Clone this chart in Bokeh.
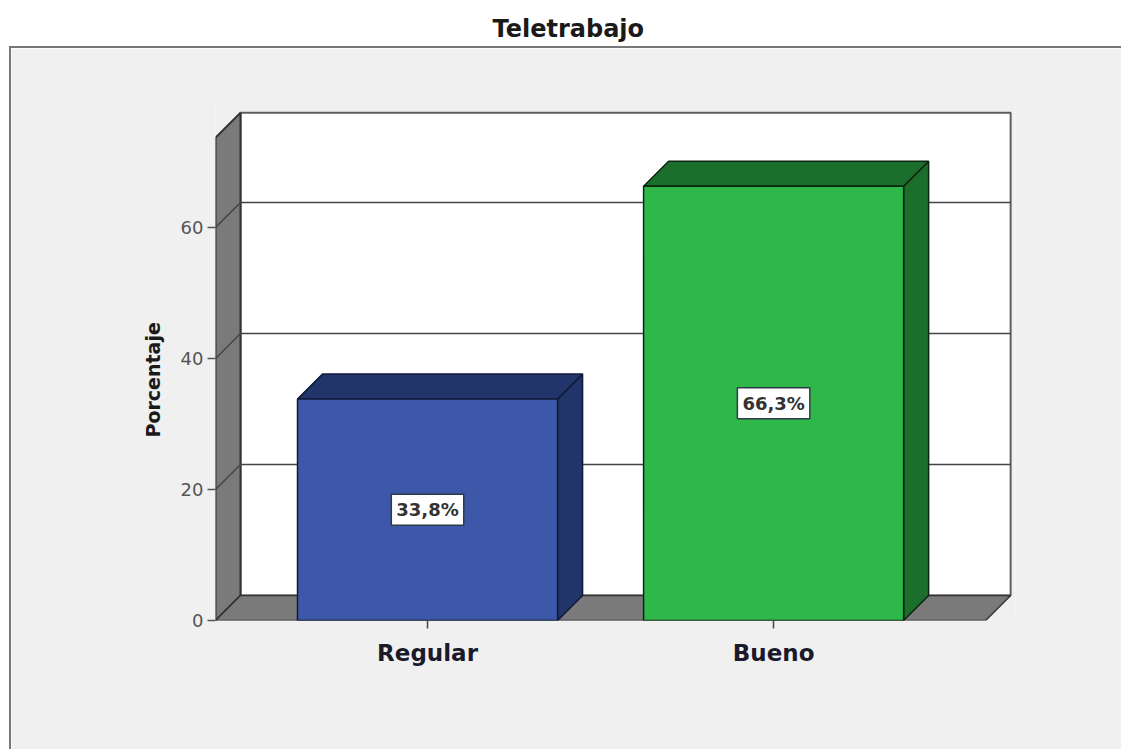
from bokeh.plotting import figure
from bokeh.layouts import column, row
from bokeh.models import ColumnDataSource, FixedTicker, Range1d, Spacer, Title
from bokeh.core.properties import value
from bokeh.embed import file_html
from bokeh.resources import INLINE

# ---- data
categories = ["Regular", "Bueno"]
values = [33.8, 66.3]
value_labels = ["33,8%", "66,3%"]
y_ticks = [0, 20, 40, 60]
front_colors = ["#3E58A9", "#2EB84A"]
side_colors = ["#22356B", "#1C6E2D"]
title_text = "Teletrabajo"
y_title = "Porcentaje"

# ---- scale layout
PX_X = 346.0      # pixels per category step
PX_Y = 6.55       # pixels per percent
DX = 25 / PX_X    # 3-D depth in data units
DY = 25 / PX_Y
BAR_W = 260 / PX_X
X0, X1 = -0.6127, 1.6127   # front edges of the floor
Y_TOP = 73.7               # front top of the left wall
PANEL = "#F0F0F0"
RULE = "#777777"

# title strip above the grey panel
head = figure(width=1121, height=46, output_backend="svg", toolbar_location=None,
              x_axis_type=None, y_axis_type=None, min_border=0, min_border_top=44,
              outline_line_color=None, border_fill_color="white", background_fill_color="white")
head.grid.visible = False
head.title = Title(text=title_text, align="left", offset=492, standoff=4,
                   text_font="DejaVu Sans", text_font_size="24px", text_font_style="bold", text_color="#1a1a1a")

p = figure(width=1110, height=701, output_backend="svg", toolbar_location=None,
           frame_width=800, frame_height=520,
           min_border_left=204, min_border_right=106, min_border_top=52, min_border_bottom=129,
           x_range=Range1d(-0.6127, 1.699), y_range=Range1d(0, 520 / PX_Y),
           outline_line_color=None, background_fill_color=PANEL, border_fill_color=PANEL)
p.grid.visible = False

# back wall
p.quad(left=[X0 + DX], right=[X1 + DX], bottom=[DY], top=[Y_TOP + DY],
       fill_color="white", line_color="#5e5e5e", line_width=2)
# left wall and floor
p.patch([X0, X0 + DX, X0 + DX, X0], [0, DY, Y_TOP + DY, Y_TOP],
        fill_color="#7A7A7A", line_color="#333333", line_width=2)
p.patch([X0, X0 + DX, X1 + DX, X1], [0, DY, DY, 0],
        fill_color="#7A7A7A", line_color="#333333", line_width=1.5)
# gridlines wrap over wall and back
grid_vals = [v for v in y_ticks if v > 0]
p.multi_line([[X0, X0 + DX, X1 + DX] for _ in grid_vals],
             [[v, v + DY, v + DY] for v in grid_vals],
             line_color="#444444", line_width=1.5)

# 3-D bars
for i, (v, fc, sc) in enumerate(zip(values, front_colors, side_colors)):
    l, r = i - BAR_W / 2, i + BAR_W / 2
    edge = "#0d2410" if i else "#101a38"
    p.patch([r, r + DX, r + DX, r], [0, DY, v + DY, v], fill_color=sc, line_color=edge, line_width=1.5)
    p.patch([l, l + DX, r + DX, r], [v, v + DY, v + DY, v], fill_color=sc, line_color=edge, line_width=1.5)
    p.quad(left=[l], right=[r], bottom=[0], top=[v], fill_color=fc, line_color=edge, line_width=1.5)

# value labels
src = ColumnDataSource(dict(x=list(range(len(values))), y=[v / 2 for v in values], t=value_labels))
p.text(x="x", y="y", text="t", source=src, text_align="center", text_baseline="middle",
       text_font=value("DejaVu Sans"), text_font_size="18px", text_font_style="bold", text_color="#333333",
       background_fill_color="white", border_line_color="#2f3b4a", border_line_width=1.5, padding=5)

# axes
ax = p.yaxis[0]
ax.ticker = FixedTicker(ticks=y_ticks)
ax.axis_line_color = None
ax.major_tick_out, ax.major_tick_in, ax.minor_tick_out, ax.minor_tick_in = 8, 0, 0, 0
ax.major_tick_line_color = "#555555"
ax.major_tick_line_width = 1.5
ax.major_label_text_font = "DejaVu Sans"
ax.major_label_text_font_size = "18px"
ax.major_label_text_color = "#555555"
ax.major_label_standoff = 4

bx = p.xaxis[0]
bx.ticker = FixedTicker(ticks=list(range(len(categories))))
bx.major_label_overrides = {i: c for i, c in enumerate(categories)}
bx.axis_line_color = None
bx.major_tick_out, bx.major_tick_in, bx.minor_tick_out, bx.minor_tick_in = 8, 0, 0, 0
bx.major_tick_line_color = "#444444"
bx.major_tick_line_width = 1.5
bx.major_label_text_font = "DejaVu Sans"
bx.major_label_text_font_size = "23px"
bx.major_label_text_font_style = "bold"
bx.major_label_text_color = "#1a1a2a"
bx.major_label_standoff = 11

# y title, centred on the front wall rather than on the frame
p.add_layout(Title(text=y_title, align="left", offset=183, standoff=27, text_font="DejaVu Sans",
                   text_font_size="19px", text_font_style="bold", text_color="#1a1a1a"), "left")

top_rule = Spacer(width=1112, height=2, styles={"background-color": RULE})
left_rule = Spacer(width=2, height=701, styles={"background-color": RULE})
page = column(head, row(Spacer(width=9, height=703), column(top_rule, row(left_rule, p))))

open("out.html", "w").write(file_html(page, INLINE))
